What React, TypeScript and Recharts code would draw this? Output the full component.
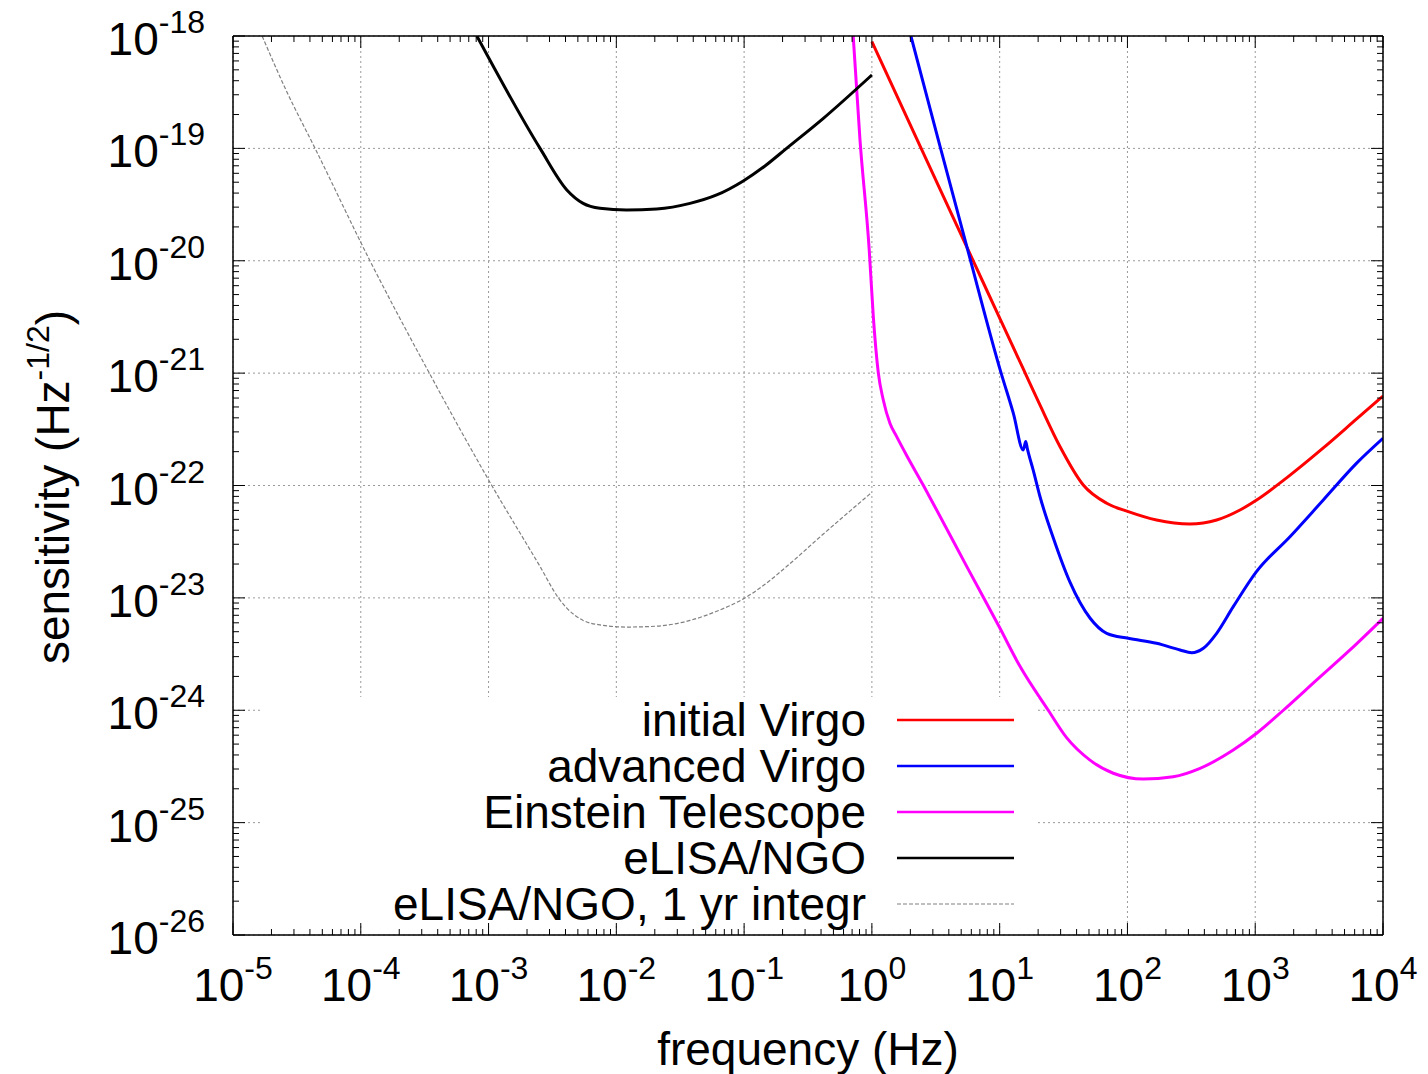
import React from 'react';
import { LineChart, Line, XAxis, YAxis, CartesianGrid, Legend } from 'recharts';

// ---------- data ----------
const xMajorTicks = [1e-5, 1e-4, 1e-3, 1e-2, 1e-1, 1e0, 1e1, 1e2, 1e3, 1e4];
const xTickExponents = ['-5', '-4', '-3', '-2', '-1', '0', '1', '2', '3', '4'];
const yMajorTicks = [1e-26, 1e-25, 1e-24, 1e-23, 1e-22, 1e-21, 1e-20, 1e-19, 1e-18];
const yTickExponents = ['-26', '-25', '-24', '-23', '-22', '-21', '-20', '-19', '-18'];

const initialVirgoF = [1.0, 2.24, 5.86, 10.24, 15.3, 20.7, 29.7, 45.1, 68.8, 101.6, 169, 308, 499, 760, 1026, 1762, 3410, 6220, 1e4];
const initialVirgoS = [8.9e-19, 1.22e-19, 1.15e-20, 2.91e-21, 1.09e-21, 5.18e-22, 2.21e-22, 1.01e-22, 6.95e-23, 5.85e-23, 4.93e-23, 4.54e-23, 4.93e-23, 6.05e-23, 7.43e-23, 1.17e-22, 2.16e-22, 3.91e-22, 6.25e-22];

const advancedVirgoF = [2.02, 3.31, 5.62, 10.24, 12.8, 15.3, 16.0, 16.5, 18.3, 20.7, 26.3, 35.5, 50.9, 68.8, 101.6, 169, 258, 318, 393, 499, 673, 1026, 1870, 3410, 6220, 1e4];
const advancedVirgoS = [1e-18, 1.19e-19, 1.25e-20, 1.01e-21, 4.38e-22, 2.07e-22, 2.46e-22, 2.11e-22, 1.37e-22, 7.94e-23, 3.41e-23, 1.38e-23, 6.62e-24, 4.84e-24, 4.37e-24, 3.94e-24, 3.44e-24, 3.25e-24, 3.56e-24, 4.84e-24, 8.35e-24, 1.72e-23, 3.5e-23, 7.43e-23, 1.58e-22, 2.63e-22];

const einsteinF = [0.714, 0.807, 0.953, 1.026, 1.122, 1.228, 1.384, 1.563, 1.871, 2.52, 3.12, 5.6, 10.06, 14.42, 24.0, 33.4, 50.9, 77.5, 133, 228, 370, 673, 1026, 1660, 3030, 5520, 1e4];
const einsteinS = [1e-18, 1.19e-19, 1.25e-20, 3.18e-21, 1.01e-21, 5.77e-22, 3.58e-22, 2.72e-22, 1.85e-22, 1.01e-22, 6.44e-23, 1.85e-23, 5.36e-24, 2.46e-24, 1.0e-24, 5.7e-25, 3.6e-25, 2.75e-25, 2.44e-25, 2.56e-25, 3.04e-25, 4.43e-25, 6.24e-25, 1.0e-24, 1.86e-24, 3.44e-24, 6.58e-24];

const elisaF = [8.1e-4, 2.53e-3, 4.1e-3, 5.5e-3, 7.45e-3, 1.2e-2, 2.07e-2, 3.77e-2, 6.1e-2, 9.85e-2, 0.1456, 0.215, 0.417, 1.0];
const elisaS = [1.0e-18, 1.0e-19, 4.27e-20, 3.24e-20, 2.93e-20, 2.83e-20, 2.89e-20, 3.24e-20, 3.85e-20, 5.13e-20, 6.97e-20, 1.0e-19, 1.85e-19, 4.5e-19];

const elisaYrF = [1.69e-5, 2.6e-5, 4.39e-5, 1.18e-4, 3.44e-4, 1.06e-3, 2.53e-3, 3.52e-3, 4.1e-3, 5.5e-3, 7.45e-3, 1.2e-2, 2.07e-2, 3.77e-2, 6.1e-2, 9.85e-2, 0.1456, 0.215, 0.417, 1.0];
const elisaYrS = [1e-18, 3.3e-19, 1e-19, 1e-20, 1e-21, 1e-22, 1.9e-23, 1e-23, 8.1e-24, 6.3e-24, 5.75e-24, 5.5e-24, 5.6e-24, 6.3e-24, 7.6e-24, 9.8e-24, 1.32e-23, 1.9e-23, 3.7e-23, 8.7e-23];

const seriesNames = ['initial Virgo', 'advanced Virgo', 'Einstein Telescope', 'eLISA/NGO', 'eLISA/NGO, 1 yr integr'];
const seriesColors = ['#ff0000', '#0000ff', '#ff00ff', '#000000', '#808080'];

// ---------- helpers ----------
const zip = (f: number[], s: number[]) => f.map((v, i) => ({ f: v, s: s[i] }));
const series = [
  { name: seriesNames[0], color: seriesColors[0], data: zip(initialVirgoF, initialVirgoS), width: 3, dash: undefined as string | undefined },
  { name: seriesNames[1], color: seriesColors[1], data: zip(advancedVirgoF, advancedVirgoS), width: 3, dash: undefined },
  { name: seriesNames[2], color: seriesColors[2], data: zip(einsteinF, einsteinS), width: 3, dash: undefined },
  { name: seriesNames[3], color: seriesColors[3], data: zip(elisaF, elisaS), width: 3, dash: undefined },
  { name: seriesNames[4], color: seriesColors[4], data: zip(elisaYrF, elisaYrS), width: 1.2, dash: '4 2' },
];

const minorOf = (majors: number[]) =>
  majors.slice(0, -1).flatMap((m) => [2, 3, 4, 5, 6, 7, 8, 9].map((k) => m * k));
const xAllTicks = [...xMajorTicks, ...minorOf(xMajorTicks)].sort((a, b) => a - b);
const yAllTicks = [...yMajorTicks, ...minorOf(yMajorTicks)].sort((a, b) => a - b);

const FONT = "'Liberation Sans', Arial, Helvetica, sans-serif";
const W = 1428;
const H = 1074;
const PLOT_LEFT = 233;
const PLOT_TOP = 36;
const PLOT_RIGHT = 1383;
const PLOT_BOTTOM = 935;

const idxOf = (arr: number[], v: number) =>
  arr.findIndex((t) => Math.abs(Math.log10(t) - Math.log10(v)) < 1e-6);

const XTick = (props: any) => {
  const { x, y, payload } = props;
  const i = idxOf(xMajorTicks, payload.value);
  return (
    <text x={x} y={y + 66} textAnchor="middle" fontFamily={FONT} fontSize={46} fill="#000">
      10<tspan dy={-22} fontSize={32}>{xTickExponents[i]}</tspan>
    </text>
  );
};

const YTick = (props: any) => {
  const { x, y, payload } = props;
  const i = idxOf(yMajorTicks, payload.value);
  return (
    <text x={x - 28} y={y + 19} textAnchor="end" fontFamily={FONT} fontSize={46} fill="#000">
      10<tspan dy={-22} fontSize={32}>{yTickExponents[i]}</tspan>
    </text>
  );
};

const makeTickMark = (side: 'bottom' | 'top' | 'left' | 'right', majors: number[]) => (props: any) => {
  const { x, y, payload } = props;
  const len = idxOf(majors, payload.value) >= 0 ? 12 : 6;
  let x2 = x;
  let y2 = y;
  if (side === 'bottom') y2 = y - len;
  if (side === 'top') y2 = y + len;
  if (side === 'left') x2 = x + len;
  if (side === 'right') x2 = x - len;
  return <line x1={x} y1={y} x2={x2} y2={y2} stroke="#000" strokeWidth={1} />;
};
const BottomMarks = makeTickMark('bottom', xMajorTicks);
const TopMarks = makeTickMark('top', xMajorTicks);
const LeftMarks = makeTickMark('left', yMajorTicks);
const RightMarks = makeTickMark('right', yMajorTicks);

const XTitle = () => (
  <text x={(PLOT_LEFT + PLOT_RIGHT) / 2} y={1065} textAnchor="middle" fontFamily={FONT} fontSize={46} fill="#000">
    frequency (Hz)
  </text>
);

const YTitle = () => {
  const cx = 69;
  const cy = 487;
  return (
    <text x={cx} y={cy} textAnchor="middle" transform={`rotate(-90, ${cx}, ${cy})`} fontFamily={FONT} fontSize={46} fill="#000">
      sensitivity (Hz<tspan dy={-20} fontSize={32}>-1/2</tspan><tspan dy={20}>)</tspan>
    </text>
  );
};

const LegendBox = () => (
  <svg width={776} height={226} style={{ display: 'block', overflow: 'visible' }}>
    {series.map((s, i) => (
      <g key={s.name}>
        <text x={604} y={39 + i * 46} textAnchor="end" fontFamily={FONT} fontSize={46} fill="#000">
          {s.name}
        </text>
        <line
          x1={635}
          x2={752}
          y1={23 + i * 46}
          y2={23 + i * 46}
          stroke={s.color}
          strokeWidth={s.width === 3 ? 2.5 : 1.2}
          strokeDasharray={s.dash}
        />
      </g>
    ))}
  </svg>
);

const frame = { stroke: '#000', strokeWidth: 1.5 };
const logX = { type: 'number' as const, scale: 'log' as const, domain: [1e-5, 1e4], allowDataOverflow: true, dataKey: 'f' };
const logY = { type: 'number' as const, scale: 'log' as const, domain: [1e-26, 1e-18], allowDataOverflow: true };

export default function App() {
  return (
    <div style={{ position: 'absolute', left: 0, top: 0 }}>
      <LineChart width={W} height={H} margin={{ top: PLOT_TOP, right: W - PLOT_RIGHT, bottom: 0, left: 0 }}>
        <CartesianGrid xAxisId="x" yAxisId="y" stroke="#9a9a9a" strokeDasharray="2 3" strokeWidth={1} />

        {/* label axes */}
        <XAxis
          xAxisId="x"
          {...logX}
          ticks={xMajorTicks}
          interval={0}
          orientation="bottom"
          height={H - PLOT_BOTTOM}
          tickLine={false}
          axisLine={false}
          tickSize={0}
          tickMargin={0}
          tick={XTick}
          label={{ content: XTitle }}
        />
        <YAxis
          yAxisId="y"
          {...logY}
          ticks={yMajorTicks}
          interval={0}
          orientation="left"
          width={PLOT_LEFT}
          tickLine={false}
          axisLine={false}
          tickSize={0}
          tickMargin={0}
          tick={YTick}
          label={{ content: YTitle }}
        />

        {/* frame with inward tick marks */}
        <XAxis xAxisId="xb" {...logX} ticks={xAllTicks} interval={0} orientation="bottom" mirror height={1} tickLine={false} tickSize={0} tickMargin={0} tick={BottomMarks} axisLine={frame} />
        <XAxis xAxisId="xt" {...logX} ticks={xAllTicks} interval={0} orientation="top" mirror height={1} tickLine={false} tickSize={0} tickMargin={0} tick={TopMarks} axisLine={frame} />
        <YAxis yAxisId="yl" {...logY} ticks={yAllTicks} interval={0} orientation="left" mirror width={1} tickLine={false} tickSize={0} tickMargin={0} tick={LeftMarks} axisLine={frame} />
        <YAxis yAxisId="yr" {...logY} ticks={yAllTicks} interval={0} orientation="right" mirror width={1} tickLine={false} tickSize={0} tickMargin={0} tick={RightMarks} axisLine={frame} />

        {series.map((s) => (
          <Line
            key={s.name}
            xAxisId="x"
            yAxisId="y"
            data={s.data}
            dataKey="s"
            name={s.name}
            type="monotone"
            stroke={s.color}
            strokeWidth={s.width}
            strokeDasharray={s.dash}
            dot={false}
            activeDot={false}
            isAnimationActive={false}
          />
        ))}

        <Legend
          layout="horizontal"
          verticalAlign="middle"
          align="center"
          wrapperStyle={{ left: 262, top: 697, width: 776, height: 226, background: '#fff' }}
          content={LegendBox}
        />
      </LineChart>
    </div>
  );
}
